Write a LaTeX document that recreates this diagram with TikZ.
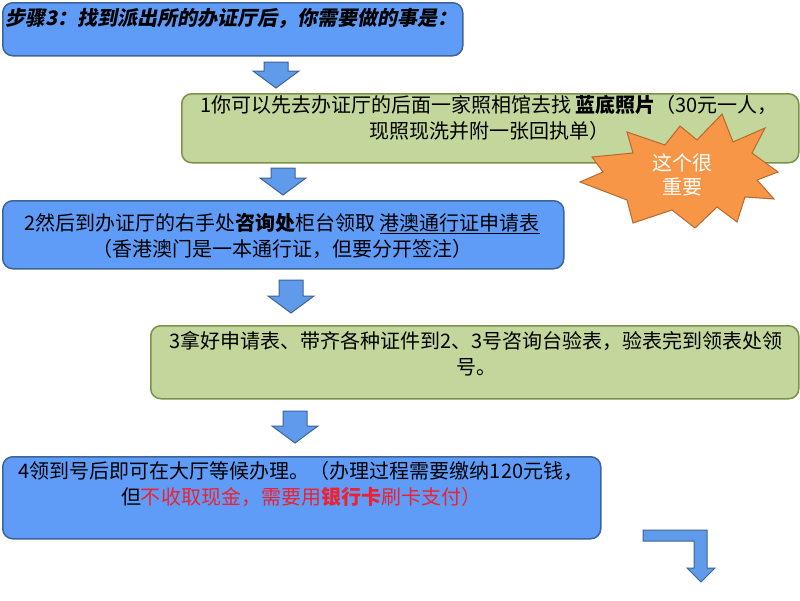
\documentclass[tikz,border=0pt]{standalone}
\usepackage{fontspec}
\setmainfont{Noto Sans CJK SC}
\newfontfamily\titlefont[FakeSlant=0.2]{Noto Sans CJK SC}
\definecolor{boxblue}{HTML}{5E9CF8}
\definecolor{boxblueline}{HTML}{3F6596}
\definecolor{boxgreen}{HTML}{C3D69B}
\definecolor{boxgreenline}{HTML}{7B9248}
\definecolor{arrfill}{HTML}{5F9BEA}
\definecolor{arrline}{HTML}{3F6596}
\definecolor{starfill}{HTML}{F79646}
\definecolor{starline}{HTML}{B8692E}
\definecolor{redtxt}{HTML}{F0202E}
\begin{document}
\begin{tikzpicture}[x=1pt,y=-1pt,
  bluebox/.style={draw=boxblueline, fill=boxblue, line width=1.5pt, rounded corners=10pt, anchor=north west, inner sep=0pt},
  greenbox/.style={draw=boxgreenline, fill=boxgreen, line width=1.5pt, rounded corners=10pt, anchor=north west, inner sep=0pt},
  txt/.style={font=\fontsize{20}{26}\selectfont, align=center, inner sep=0pt, anchor=north},
  arrowshape/.style={draw=arrline, fill=arrfill, line width=1pt, line join=miter},
  startxt/.style={font=\fontsize{20}{24}\selectfont, text=white, align=center, inner sep=0pt}]
\useasboundingbox (0,0) rectangle (800,600);
\fill[white] (0,0) rectangle (800,600);
% down arrows: center x, top y, tip y
\newcommand{\dnarrow}[3]{%
  \draw[arrowshape] (#1-12,#2) -- (#1+12,#2) -- (#1+12,#3-17) -- (#1+23,#3-17)
    -- (#1,#3) -- (#1-23,#3-17) -- (#1-12,#3-17) -- cycle;}
% title
\node[bluebox, minimum width=460pt, minimum height=53pt] (title) at (2,2) {};
\node[font=\fontsize{20}{24}\selectfont\titlefont\bfseries, anchor=north west, inner sep=0pt] (titletxt) at (5,8) {步骤3：找到派出所的办证厅后，你需要做的事是：};
\dnarrow{276}{62}{88}
% box 1
\node[greenbox, minimum width=617pt, minimum height=69pt] (b1) at (181,93) {};
\node[txt] (t1) at (489,95) {1你可以先去办证厅的后面一家照相馆去找 \textbf{蓝底照片}（30元一人，\\现照现洗并附一张回执单）};
% star
\draw[fill=starfill, draw=starline, line width=1pt, line join=miter]
  (722,114) -- (733,142) -- (765,128) -- (752,153) -- (778,172) -- (757,180)
  -- (774,199) -- (745,197) -- (737,222) -- (717,207) -- (695,228) -- (672,210)
  -- (633,223) -- (627,200) -- (580,182) -- (603,172) -- (592,157) -- (633,153)
  -- (627,132) -- (665,145) -- (680,126) -- (697,140) -- cycle;
\node[startxt] (star) at (682,175) {这个很\\重要};
\dnarrow{283}{168}{195}
% box 2
\node[bluebox, minimum width=561pt, minimum height=68pt] (b2) at (2,200) {};
\node[txt] (t2) at (282,213) {2然后到办证厅的右手处\textbf{咨询处}柜台领取 \underline{港澳通行证申请表}\\（香港澳门是一本通行证，但要分开签注）};
\dnarrow{291}{280}{313}
% box 3
\node[greenbox, minimum width=648pt, minimum height=73pt] (b3) at (150,325) {};
\node[txt] (t3) at (476,331) {3拿好申请表、带齐各种证件到2、3号咨询台验表，验表完到领表处领\\号。};
\dnarrow{295}{411}{443}
% box 4
\node[bluebox, minimum width=598pt, minimum height=82pt] (b4) at (2,456) {};
\node[txt] (t4) at (301,461) {4领到号后即可在大厅等候办理。（办理过程需要缴纳120元钱，\\但\textcolor{redtxt}{不收取现金，需要用\textbf{银行卡}刷卡支付）}};
% bent arrow
\draw[arrowshape] (643,530) -- (707,530) -- (707,568) -- (715,568) -- (701,582)
  -- (687,568) -- (694,568) -- (694,541) -- (643,541) -- cycle;
\end{tikzpicture}
\end{document}
